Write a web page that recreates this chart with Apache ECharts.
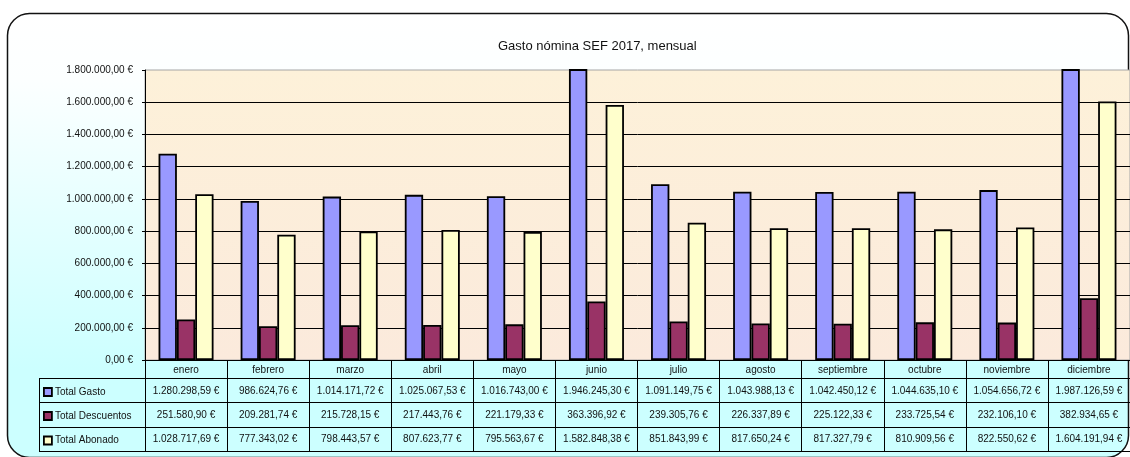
<!DOCTYPE html>
<html>
<head>
<meta charset="utf-8">
<script src="https://cdn.jsdelivr.net/npm/echarts@6.0.0/dist/echarts.min.js"></script>
<style>
html,body{margin:0;padding:0;background:#ffffff;}
#chart{width:1130px;height:457px;}
</style>
</head>
<body>
<div id="chart"></div>
<script>
// ---- data ----
const months = ['enero','febrero','marzo','abril','mayo','junio','julio','agosto','septiembre','octubre','noviembre','diciembre'];
const totalGasto = [1280298.59, 986624.76, 1014171.72, 1025067.53, 1016743.00, 1946245.30, 1091149.75, 1043988.13, 1042450.12, 1044635.10, 1054656.72, 1987126.59];
const totalDescuentos = [251580.90, 209281.74, 215728.15, 217443.76, 221179.33, 363396.92, 239305.76, 226337.89, 225122.33, 233725.54, 232106.10, 382934.65];
const totalAbonado = [1028717.69, 777343.02, 798443.57, 807623.77, 795563.67, 1582848.38, 851843.99, 817650.24, 817327.79, 810909.56, 822550.62, 1604191.94];
const seriesNames = ['Total Gasto','Total Descuentos','Total Abonado'];
const titleText = 'Gasto nómina SEF 2017, mensual';
const yMin = 0, yMax = 1800000, yStep = 200000;

// ---- layout ----
const FONT = "'Liberation Sans', Arial, sans-serif";
const G = {left:145, top:70, width:988, height:290};
const gBottom = G.top + G.height;           // 360
const tableLeft = 39;
const rowLines = [378, 402, 427, 451];
const rowCenters = [391, 415, 439.5];
const colors = ['#9999ff', '#993366', '#ffffcc'];

function fmtEUR(v){
  const parts = Number(v).toFixed(2).split('.');
  const i = parts[0].replace(/\B(?=(\d{3})+(?!\d))/g, '.');
  return i + ',' + parts[1] + ' €';
}

const rowData = [totalGasto, totalDescuentos, totalAbonado];

const chart = echarts.init(document.getElementById('chart'), null, {renderer:'canvas'});

const xAxes = [{
  type:'category', data: months, gridIndex:0, position:'bottom',
  axisLine:{show:true, lineStyle:{color:'#000', width:1}},
  axisTick:{show:true, interval:0, length: rowLines[3]-gBottom, lineStyle:{color:'#000', width:1}},
  axisLabel:{show:true, interval:0, margin:10.5, verticalAlign:'middle', color:'#111', fontSize:10, fontFamily:FONT},
  splitLine:{show:false}
}];
rowData.forEach((arr, r) => {
  xAxes.push({
    type:'category', data: months, gridIndex:0, position:'bottom',
    axisLine:{show:false}, axisTick:{show:false}, splitLine:{show:false},
    axisLabel:{show:true, interval:0, margin: rowCenters[r]-gBottom, verticalAlign:'middle',
      color:'#111', fontSize:10, fontFamily:FONT,
      formatter:(v, idx) => fmtEUR(arr[idx])}
  });
});

const graphics = [
  {type:'rect', z:-100, silent:true,
   shape:{x:7.5, y:13.5, width:1121, height:444, r:22},
   style:{fill:new echarts.graphic.LinearGradient(0,0,0,1,[
     {offset:0, color:'#ffffff'},{offset:0.15, color:'#fcffff'},{offset:0.8, color:'#ccffff'},{offset:1, color:'#ccffff'}]),
     stroke:'#111', lineWidth:1.5}}
];
rowLines.forEach(y => {
  graphics.push({type:'line', z:50, silent:true,
    shape:{x1:tableLeft, y1:y+0.5, x2:G.left+G.width, y2:y+0.5},
    style:{stroke:'#000', lineWidth:1}});
});
graphics.push({type:'line', z:50, silent:true,
  shape:{x1:tableLeft+0.5, y1:rowLines[0], x2:tableLeft+0.5, y2:rowLines[3]},
  style:{stroke:'#000', lineWidth:1}});

const legends = seriesNames.map((n, r) => ({
  data:[n], orient:'vertical', left:43, top: rowCenters[r]-4, padding:0,
  icon:'rect', itemWidth:8, itemHeight:8, itemGap:0,
  itemStyle:{borderColor:'#000', borderWidth:1.8},
  textStyle:{color:'#111', fontSize:10, fontFamily:FONT, padding:[0,0,0,-2]},
  selectedMode:false
}));

chart.setOption({
  animation:false,
  backgroundColor:'transparent',
  title:{text:titleText, left:493, top:35,
    textStyle:{color:'#111', fontSize:13, fontWeight:'normal', fontFamily:FONT}},
  legend: legends,
  graphic: graphics,
  grid:{left:G.left, top:G.top, width:G.width, height:G.height, show:true,
    borderColor:'#a6a6a6', borderWidth:1,
    backgroundColor:new echarts.graphic.LinearGradient(0,0,0,1,[
      {offset:0, color:'#fdf1d9'},{offset:1, color:'#fbeadc'}]),
    containLabel:false},
  xAxis: xAxes,
  yAxis:{type:'value', min:yMin, max:yMax, interval:yStep,
    axisLine:{show:true, lineStyle:{color:'#000', width:1}},
    axisTick:{show:true, length:3, lineStyle:{color:'#000'}},
    axisLabel:{margin:12, color:'#111', fontSize:10, fontFamily:FONT, formatter:v => fmtEUR(v)},
    splitLine:{show:true, showMaxLine:false, lineStyle:{color:'#000', width:1}}},
  series: rowData.map((arr, r) => ({
    name: seriesNames[r], type:'bar', data: arr, xAxisIndex:0, yAxisIndex:0,
    barGap:'0%', barCategoryGap:'33%', clip:true,
    itemStyle:{color:colors[r], borderColor:'#000', borderWidth:1.8}
  }))
});
</script>
</body>
</html>
